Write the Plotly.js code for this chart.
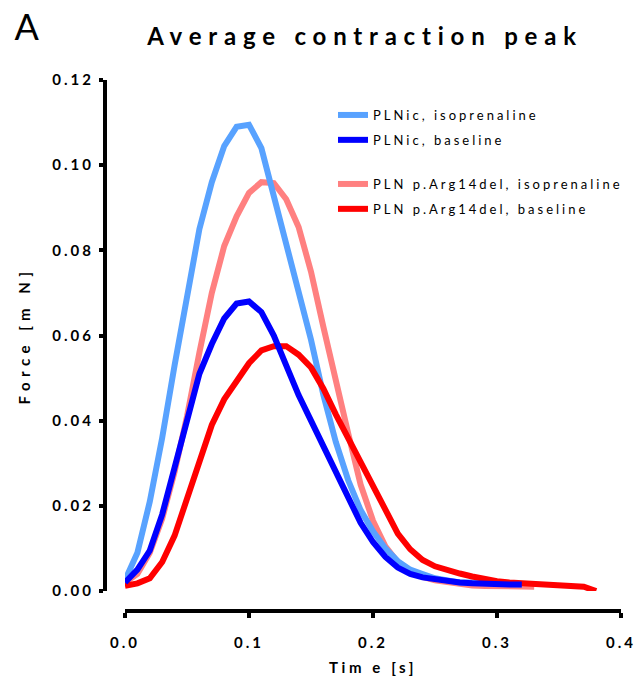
<!DOCTYPE html>
<html>
<head>
<meta charset="utf-8">
<script src="https://cdn.plot.ly/plotly-3.0.1.min.js"></script>
<style>
  html, body { margin: 0; padding: 0; background: #fff; }
  #chart { width: 636px; height: 687px; }
  text { letter-spacing: 3px; }
  text.gtitle { letter-spacing: 6.8px; }
  text.xtitle { letter-spacing: 3.6px; }
  text.ytitle { letter-spacing: 5.5px; }
  .xtick text, .ytick text { letter-spacing: 3px; }
  .annotation text { letter-spacing: 0px; }
</style>
</head>
<body>
<div id="chart"></div>
<script>
// Time axis (s)
const time = [0.00,0.01,0.02,0.03,0.04,0.05,0.06,0.07,0.08,0.09,
              0.10,0.11,0.12,0.13,0.14,0.15,0.16,0.17,0.18,0.19,
              0.20,0.21,0.22,0.23,0.24,0.25,0.26,0.27,0.28,0.29,
              0.30,0.31,0.32,0.33,0.34,0.35,0.36,0.37,0.38];

// Force (mN)
const plnicIso = [0.0025,0.009,0.021,0.036,0.053,0.070,0.085,0.096,0.1045,0.109,
                  0.1095,0.104,0.093,0.081,0.070,0.059,0.046,0.035,0.026,0.019,
                  0.014,0.010,0.007,0.005,0.004,0.003,0.0025,0.002,0.002,0.0018,
                  0.0016,0.0015,0.0015];
const plnicBase = [0.002,0.005,0.0095,0.018,0.029,0.040,0.051,0.058,0.064,0.0675,
                   0.068,0.0655,0.060,0.053,0.046,0.040,0.034,0.028,0.022,0.016,
                   0.0115,0.008,0.0055,0.004,0.0032,0.0027,0.0022,0.002,0.0018,0.0016,
                   0.0015,0.0015,0.0015];
const argIso = [0.002,0.004,0.009,0.017,0.028,0.041,0.056,0.070,0.081,0.088,
                0.0935,0.096,0.0958,0.092,0.0855,0.075,0.062,0.049,0.037,0.025,
                0.0165,0.0105,0.0068,0.0045,0.0033,0.0025,0.002,0.0016,0.0013,0.0012,
                0.0011,0.001,0.001,0.001];
const argBase = [0.0012,0.0018,0.003,0.0068,0.013,0.022,0.031,0.039,0.045,0.0495,
                 0.0535,0.0565,0.0575,0.0575,0.0555,0.0525,0.0475,0.0415,0.036,0.0305,
                 0.025,0.019,0.0135,0.0098,0.0073,0.0058,0.0048,0.0041,0.0034,0.0028,
                 0.0023,0.002,0.0018,0.0016,0.0014,0.0012,0.0011,0.001,0.0];

const seriesNames = ["PLNic, isoprenaline", "PLNic, baseline",
                     "PLN p.Arg14del, isoprenaline", "PLN p.Arg14del, baseline"];
const seriesColors = ["#58A2FF", "#0000FF", "#FF8080", "#FF0000"];

const W = 636, H = 687;
const px = v => v / W;
const py = v => 1 - v / H;

function tr(i, y, legend, rank) {
  return {
    type: "scatter", mode: "lines",
    x: time.slice(0, y.length), y: y,
    name: seriesNames[i],
    line: {color: seriesColors[i], width: 6, shape: "linear"},
    legend: legend, legendgroup: "g" + i, legendrank: rank
  };
}

// drawing order: pink, light blue, red, blue (bottom to top)
const data = [
  tr(2, argIso, "legend2", 1),
  tr(0, plnicIso, "legend", 1),
  tr(3, argBase, "legend2", 2),
  tr(1, plnicBase, "legend", 2)
];

const FAM = "Lato, 'Open Sans', sans-serif";
const tickFont = {family: FAM, size: 15, color: "#000", weight: 700};
const legFont = {family: FAM, size: 13, color: "#000"};

const layout = {
  width: W, height: H,
  margin: {l: 0, r: 0, t: 0, b: 0},
  paper_bgcolor: "#fff", plot_bgcolor: "#fff",
  showlegend: true,
  title: {
    text: "Average contraction peak",
    font: {family: FAM, size: 24, color: "#000", weight: 700},
    x: px(365), xanchor: "center", xref: "paper",
    y: py(37), yanchor: "middle", yref: "paper"
  },
  xaxis: {
    domain: [px(125), px(621)],
    range: [0, 0.4],
    anchor: "free", position: py(611),
    showgrid: false, zeroline: false,
    showline: true, linecolor: "#000", linewidth: 4,
    ticks: "outside", ticklen: 5, tickwidth: 4, tickcolor: "#000",
    tick0: 0, dtick: 0.1, tickformat: ".1f",
    tickfont: tickFont, ticklabelstandoff: 12,
    automargin: false,
    title: {text: "Tim e [s]", font: {family: FAM, size: 15, color: "#000", weight: 700}, standoff: 11}
  },
  yaxis: {
    domain: [py(591), py(80)],
    range: [0, 0.12],
    anchor: "free", position: px(105),
    showgrid: false, zeroline: false,
    showline: true, linecolor: "#000", linewidth: 4,
    ticks: "outside", ticklen: 4, tickwidth: 4, tickcolor: "#000",
    tick0: 0, dtick: 0.02, tickformat: ".2f",
    tickfont: tickFont, ticklabelstandoff: 2,
    automargin: false,
    title: {text: "Force [m N]", font: {family: FAM, size: 15, color: "#000", weight: 700}, standoff: 17}
  },
  legend: {
    x: px(333), xanchor: "left", y: py(100), yanchor: "top",
    bgcolor: "rgba(0,0,0,0)", borderwidth: 0,
    font: legFont, traceorder: "grouped", tracegroupgap: 5
  },
  legend2: {
    x: px(333), xanchor: "left", y: py(169), yanchor: "top",
    bgcolor: "rgba(0,0,0,0)", borderwidth: 0,
    font: legFont, traceorder: "grouped", tracegroupgap: 5
  },
  annotations: [{
    text: "A", xref: "paper", yref: "paper",
    x: px(11), y: py(2), xanchor: "left", yanchor: "top",
    showarrow: false,
    font: {family: FAM, size: 36, color: "#000"}
  }]
};

Plotly.newPlot("chart", data, layout, {displayModeBar: false, staticPlot: true});
</script>
</body>
</html>
